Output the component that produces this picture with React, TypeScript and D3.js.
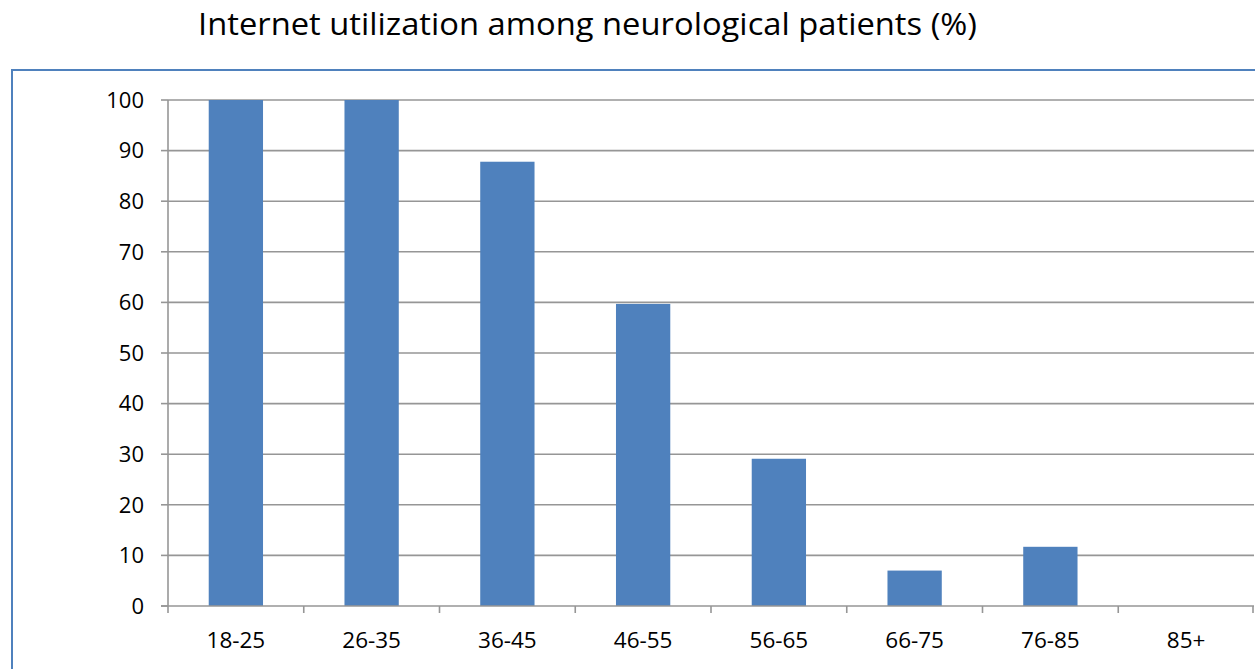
import React from "react";
import * as d3 from "d3";

const categories = ["18-25", "26-35", "36-45", "46-55", "56-65", "66-75", "76-85", "85+"];
const values = [100, 100, 87.8, 59.7, 29.1, 7, 11.7, 0];
const yTicks = [0, 10, 20, 30, 40, 50, 60, 70, 80, 90, 100];
const title = "Internet utilization among neurological patients (%)";

export default function App() {
  const W = 1255, H = 669;
  const left = 168, right = 1254, top = 100, bottom = 606;
  const x = d3.scaleBand<string>().domain(categories).range([left, right]).paddingInner(0.6).paddingOuter(0.3);
  const band = d3.scaleBand<string>().domain(categories).range([left, right]);
  const y = d3.scaleLinear().domain([0, 100]).range([bottom, top]);
  const font = "Open Sans, Liberation Sans, sans-serif";
  return (
    <svg width={W} height={H} style={{ position: "absolute", left: 0, top: 0, background: "#fff" }}>
      <text x={198} y={35} textLength={779} lengthAdjust="spacingAndGlyphs" fontFamily={font} fontSize={31} fill="#000">{title}</text>
      <rect x={12} y={70} width={1260} height={620} fill="none" stroke="#4f81bd" strokeWidth={2} />
      {yTicks.filter(t => t > 0).map(t => (
        <line key={t} x1={left} x2={right} y1={y(t)} y2={y(t)} stroke="#969696" strokeWidth={1.6} />
      ))}
      {categories.map((c, i) => (
        <rect key={c} x={x(c)} y={y(values[i])} width={x.bandwidth()} height={bottom - y(values[i])} fill="#4f81bd" />
      ))}
      <line x1={left} x2={left} y1={top} y2={bottom} stroke="#969696" strokeWidth={1.6} />
      <line x1={left - 7} x2={right} y1={bottom} y2={bottom} stroke="#969696" strokeWidth={1.6} />
      {yTicks.map(t => (
        <g key={t}>
          <line x1={left - 7} x2={left} y1={y(t)} y2={y(t)} stroke="#969696" strokeWidth={1.6} />
          <text x={144} y={y(t) + 7.8} textAnchor="end" fontFamily={font} fontSize={22} fill="#000">{t}</text>
        </g>
      ))}
      {categories.map((c, i) => (
        <line key={"t" + c} x1={band(c)!} x2={band(c)!} y1={bottom} y2={bottom + 7} stroke="#969696" strokeWidth={1.6} />
      ))}
      <line x1={right - 1} x2={right - 1} y1={bottom} y2={bottom + 7} stroke="#969696" strokeWidth={1.6} />
      {categories.map(c => (
        <text key={"l" + c} x={band(c)! + band.bandwidth() / 2} y={648} textAnchor="middle" fontFamily={font} fontSize={22.5} fill="#000">{c}</text>
      ))}
    </svg>
  );
}
